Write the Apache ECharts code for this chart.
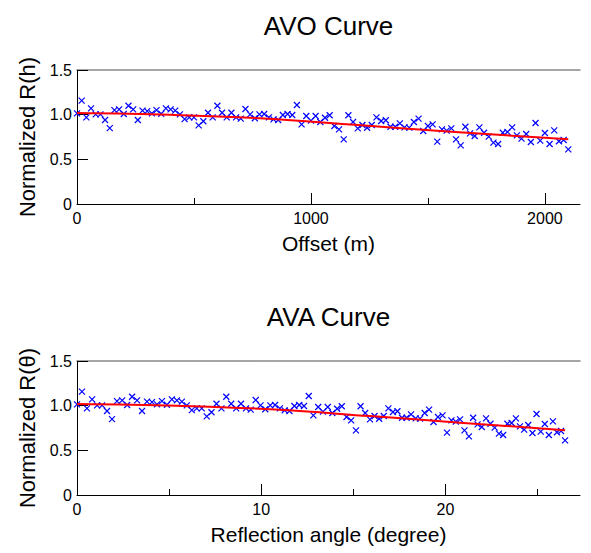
<!DOCTYPE html>
<html><head><meta charset="utf-8">
<script src="https://cdn.jsdelivr.net/npm/echarts@6/dist/echarts.min.js"></script>
<style>html,body{margin:0;padding:0;background:#fff}#c{width:591px;height:553px}</style>
</head><body><div id="c"></div>
<script>
// ---- data ----
const offsets = [0,20,40,60,80,100,120,140,160,180,200,220,240,260,280,300,320,340,360,380,
  400,420,440,460,480,500,520,540,560,580,600,620,640,660,680,700,720,740,760,780,
  800,820,840,860,880,900,920,940,960,980,1000,1020,1040,1060,1080,1100,1120,1140,1160,1180,
  1200,1220,1240,1260,1280,1300,1320,1340,1360,1380,1400,1420,1440,1460,1480,1500,1520,1540,1560,1580,
  1600,1620,1640,1660,1680,1700,1720,1740,1760,1780,1800,1820,1840,1860,1880,1900,1920,1940,1960,1980,
  2000,2020,2040,2060,2080,2100];
const angles = [0,0.27,0.54,0.82,1.09,1.36,1.63,1.90,2.17,2.45,2.72,2.99,3.26,3.53,3.80,4.07,4.34,4.61,4.88,5.15,
  5.42,5.69,5.96,6.23,6.50,6.77,7.04,7.30,7.57,7.84,8.10,8.37,8.64,8.90,9.17,9.43,9.70,9.96,10.22,10.49,
  10.75,11.01,11.27,11.53,11.80,12.06,12.32,12.58,12.83,13.09,13.35,13.61,13.86,14.12,14.37,14.63,14.88,15.14,15.39,15.64,
  15.90,16.15,16.40,16.65,16.90,17.15,17.39,17.64,17.89,18.13,18.38,18.62,18.87,19.11,19.35,19.59,19.84,20.08,20.32,20.56,
  20.79,21.03,21.27,21.50,21.74,21.97,22.20,22.44,22.67,22.90,23.13,23.36,23.59,23.82,24.04,24.27,24.49,24.72,24.94,25.17,
  25.39,25.61,25.83,26.05,26.27,26.49];
const normR = [1.015,1.157,0.97,1.07,1.004,1.004,0.94,0.85,1.05,1.06,1.007,1.10,1.06,0.94,1.045,1.04,1.015,1.05,1.01,1.07,
  1.06,1.045,1.004,0.95,0.97,0.97,0.88,0.926,1.022,0.97,1.10,1.022,0.97,1.022,0.97,0.955,1.063,1.004,0.96,1.004,
  1.007,0.97,0.948,0.94,0.996,1.007,0.996,1.108,0.892,0.985,0.933,0.985,0.918,0.966,0.993,0.873,0.836,0.724,0.993,0.918,
  0.847,0.884,0.854,0.884,0.97,0.929,0.937,0.865,0.865,0.903,0.858,0.855,0.918,0.955,0.817,0.873,0.892,0.698,0.836,0.821,
  0.847,0.724,0.657,0.865,0.791,0.761,0.858,0.798,0.754,0.687,0.672,0.798,0.806,0.858,0.769,0.731,0.784,0.694,0.907,0.709,
  0.795,0.672,0.825,0.702,0.716,0.612];
const fitOffsets = [0,400,800,1200,1600,2000,2100];
const fitAngles = [0,5.42,10.75,15.90,20.79,25.39,26.49];
const fitR = [1.018,0.998,0.957,0.883,0.81,0.741,0.724];

const titles = ['AVO Curve','AVA Curve'];
const xNames = ['Offset (m)','Reflection angle (degree)'];
const yNames = ['Normalized R(h)','Normalized R(\u03b8)'];
const xMajor = [[0,1000,2000],[0,10,20]];
const xMinor = [[500,1500],[5,15,25]];
const xMax = [2150,27.3];
const yTicks = [0,0.5,1.0,1.5];

// ---- layout ----
const FONT = "'Liberation Sans', Arial, Helvetica, sans-serif";
const gridTop = [70,361];
const gridLeft = 77, gridW = 503, gridH = 134;
const cx = gridLeft + gridW/2;

const grids = [], xAxes = [], yAxes = [], series = [], graphics = [];
for (let g = 0; g < 2; g++) {
  grids.push({left: gridLeft, top: gridTop[g], width: gridW, height: gridH, containLabel: false});
  xAxes.push({
    gridIndex: g, type: 'value', position: 'bottom', min: 0, max: xMax[g],
    axisLine: {show: true, onZero: false, lineStyle: {color: '#000', width: 1}},
    axisTick: {show: true, inside: true, length: 11, customValues: xMajor[g], lineStyle: {color: '#000'}},
    axisLabel: {show: true, customValues: xMajor[g], formatter: v => String(v), color: '#000',
      fontSize: 16, fontFamily: FONT, margin: 6},
    splitLine: {show: false}
  });
  xAxes.push({
    gridIndex: g, type: 'value', position: 'bottom', min: 0, max: xMax[g],
    axisLine: {show: false},
    axisTick: {show: true, inside: true, length: 6, customValues: xMinor[g], lineStyle: {color: '#000'}},
    axisLabel: {show: false}, splitLine: {show: false}
  });
  xAxes.push({
    gridIndex: g, type: 'value', position: 'top', min: 0, max: xMax[g],
    axisLine: {show: true, onZero: false, lineStyle: {color: '#888', width: 1.5}},
    axisTick: {show: false}, axisLabel: {show: false}, splitLine: {show: false}
  });
  yAxes.push({
    gridIndex: g, type: 'value', min: 0, max: 1.5, interval: 0.5,
    axisLine: {show: true, onZero: false, lineStyle: {color: '#000', width: 1}},
    axisTick: {show: true, inside: true, length: 11, customValues: yTicks, lineStyle: {color: '#000'}},
    axisLabel: {show: true, customValues: yTicks, formatter: v => (v === 0 ? '0' : v.toFixed(1)), color: '#000',
      fontSize: 16, fontFamily: FONT, margin: 5},
    splitLine: {show: false}
  });
  const xs = g === 0 ? offsets : angles;
  const fx = g === 0 ? fitOffsets : fitAngles;
  series.push({
    type: 'scatter', xAxisIndex: g*3, yAxisIndex: g,
    data: xs.map((x, i) => [x, normR[i]]),
    symbol: 'path://M0,0L10,10M10,0L0,10', symbolSize: 6,
    itemStyle: {color: 'none', borderColor: '#0000ff', borderWidth: 1.2, opacity: 1},
    z: 2
  });
  series.push({
    type: 'line', xAxisIndex: g*3, yAxisIndex: g,
    data: fx.map((x, i) => [x, fitR[i]]),
    smooth: 0.4, showSymbol: false, symbol: 'none',
    lineStyle: {color: '#ff0000', width: 2}, z: 3
  });
  graphics.push({type: 'text', x: cx, y: gridTop[g] - 57,
    style: {text: titles[g], fill: '#000', font: '26px ' + FONT, align: 'center', verticalAlign: 'top'}});
  graphics.push({type: 'text', x: cx, y: gridTop[g] + gridH + 29,
    style: {text: xNames[g], fill: '#000', font: '21px ' + FONT, align: 'center', verticalAlign: 'top'}});
  graphics.push({type: 'text', x: 27, y: gridTop[g] + gridH/2, rotation: Math.PI/2,
    style: {text: yNames[g], fill: '#000', font: '22px ' + FONT, align: 'center', verticalAlign: 'middle'}});
}

const chart = echarts.init(document.getElementById('c'), null, {renderer: 'svg'});
chart.setOption({
  animation: false,
  backgroundColor: '#fff',
  grid: grids, xAxis: xAxes, yAxis: yAxes, series: series,
  graphic: graphics
});
</script>
</body></html>
